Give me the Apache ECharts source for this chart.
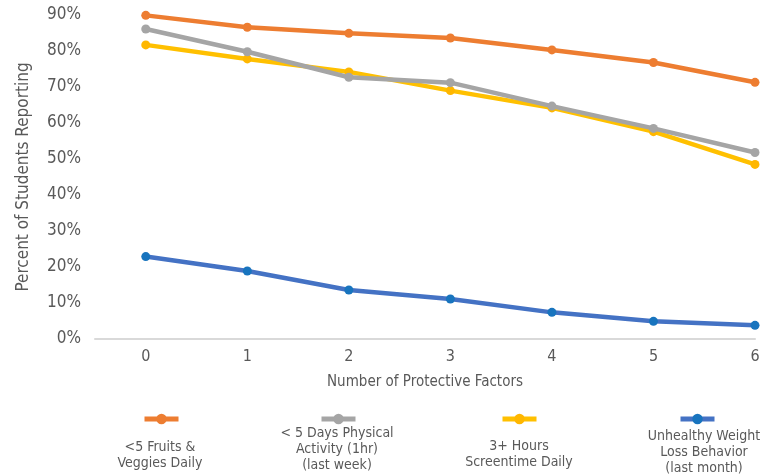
<!DOCTYPE html>
<html>
<head>
<meta charset="utf-8">
<script src="https://cdn.jsdelivr.net/npm/echarts@6/dist/echarts.min.js"></script>
<style>
  html, body { margin: 0; padding: 0; background: #ffffff; }
  #chart { width: 770px; height: 475px; }
</style>
</head>
<body>
<div id="chart"></div>
<script>
// Number of protective factors (x values)
const factors = [0, 1, 2, 3, 4, 5, 6];

// Percent of students reporting each behaviour
const fruitsVeggies = [89.9, 86.6, 84.9, 83.6, 80.3, 76.8, 71.3];
const physicalActivity = [86.1, 79.8, 72.7, 71.2, 64.7, 58.5, 51.8];
const screentime = [81.7, 77.8, 74.2, 69.0, 64.2, 57.6, 48.5];
const weightLoss = [22.9, 18.9, 13.6, 11.1, 7.4, 4.9, 3.8];

const seriesNames = [
  '<5 Fruits & Veggies Daily',
  '< 5 Days Physical Activity (1hr) (last week)',
  '3+ Hours Screentime Daily',
  'Unhealthy Weight Loss Behavior (last month)'
];
// Legend captions, broken into lines
const legendLines = [
  ['<5 Fruits &', 'Veggies Daily'],
  ['< 5 Days Physical', 'Activity (1hr)', '(last week)'],
  ['3+ Hours', 'Screentime Daily'],
  ['Unhealthy Weight', 'Loss Behavior', '(last month)']
];

const FONT = '"Liberation Sans Narrow", "DejaVu Sans Condensed", "Roboto", sans-serif';
const TEXT = '#595959';

const lineColors = ['#ED7D31', '#A5A5A5', '#FFC000', '#4472C4'];
const markerColors = ['#ED7D31', '#A5A5A5', '#FFB700', '#1874BE'];
const values = [fruitsVeggies, physicalActivity, screentime, weightLoss];
const zOrder = [3, 4, 2, 3];

// Legend placement: icon centres and caption centres
const legendIconCenters = [159, 336, 517, 695];
const legendIconY = 419;
const legendTextCenters = [160, 337, 519, 704];
const legendTextY = [455, 449, 454, 452];

const chart = echarts.init(document.getElementById('chart'), null, { renderer: 'canvas' });

const series = values.map((vals, i) => ({
  name: seriesNames[i],
  type: 'line',
  data: factors.map((f, k) => [f, vals[k]]),
  symbol: 'circle',
  symbolSize: 9,
  z: zOrder[i],
  lineStyle: { color: lineColors[i], width: 4.5 },
  itemStyle: { color: markerColors[i] },
  emphasis: { disabled: true }
}));

const ICON_W = 34, ICON_H = 13;
const legends = seriesNames.map((name, i) => ({
  data: [name],
  left: legendIconCenters[i] - ICON_W / 2,
  top: legendIconY - ICON_H / 2,
  padding: 0,
  itemWidth: ICON_W,
  itemHeight: ICON_H,
  itemGap: 0,
  lineStyle: { width: 5 },
  formatter: () => '',
  textStyle: { fontSize: 1 },
  selectedMode: false
}));

const captions = legendLines.map((lines, i) => ({
  type: 'text',
  style: {
    text: lines.join('\n'),
    x: legendTextCenters[i],
    y: legendTextY[i],
    align: 'center',
    verticalAlign: 'middle',
    fill: TEXT,
    font: '14px ' + FONT,
    lineHeight: 16
  }
}));

chart.setOption({
  animation: false,
  textStyle: { fontFamily: FONT },
  grid: { left: 95, right: 15, top: 15, bottom: 136 },
  legend: legends,
  graphic: captions,
  xAxis: {
    type: 'value',
    min: -0.5,
    max: 6,
    interval: 0.5,
    axisLine: { show: true, lineStyle: { color: '#D9D9D9', width: 2 } },
    axisTick: { show: false },
    splitLine: { show: false },
    axisLabel: {
      color: TEXT,
      fontSize: 16,
      fontFamily: FONT,
      margin: 10,
      formatter: v => (Number.isInteger(v) && v >= 0 ? String(v) : '')
    },
    name: 'Number of Protective Factors',
    nameLocation: 'middle',
    nameGap: 36,
    nameTextStyle: { color: TEXT, fontSize: 15, fontFamily: FONT }
  },
  yAxis: {
    type: 'value',
    min: 0,
    max: 90,
    interval: 10,
    axisLine: { show: false },
    axisTick: { show: false },
    splitLine: { show: false },
    axisLabel: {
      color: TEXT,
      fontSize: 17,
      fontFamily: FONT,
      margin: 14,
      formatter: '{value}%'
    },
    name: 'Percent of Students Reporting',
    nameLocation: 'middle',
    nameGap: 63,
    nameTextStyle: { color: TEXT, fontSize: 17, fontFamily: FONT }
  },
  series: series
});
</script>
</body>
</html>
